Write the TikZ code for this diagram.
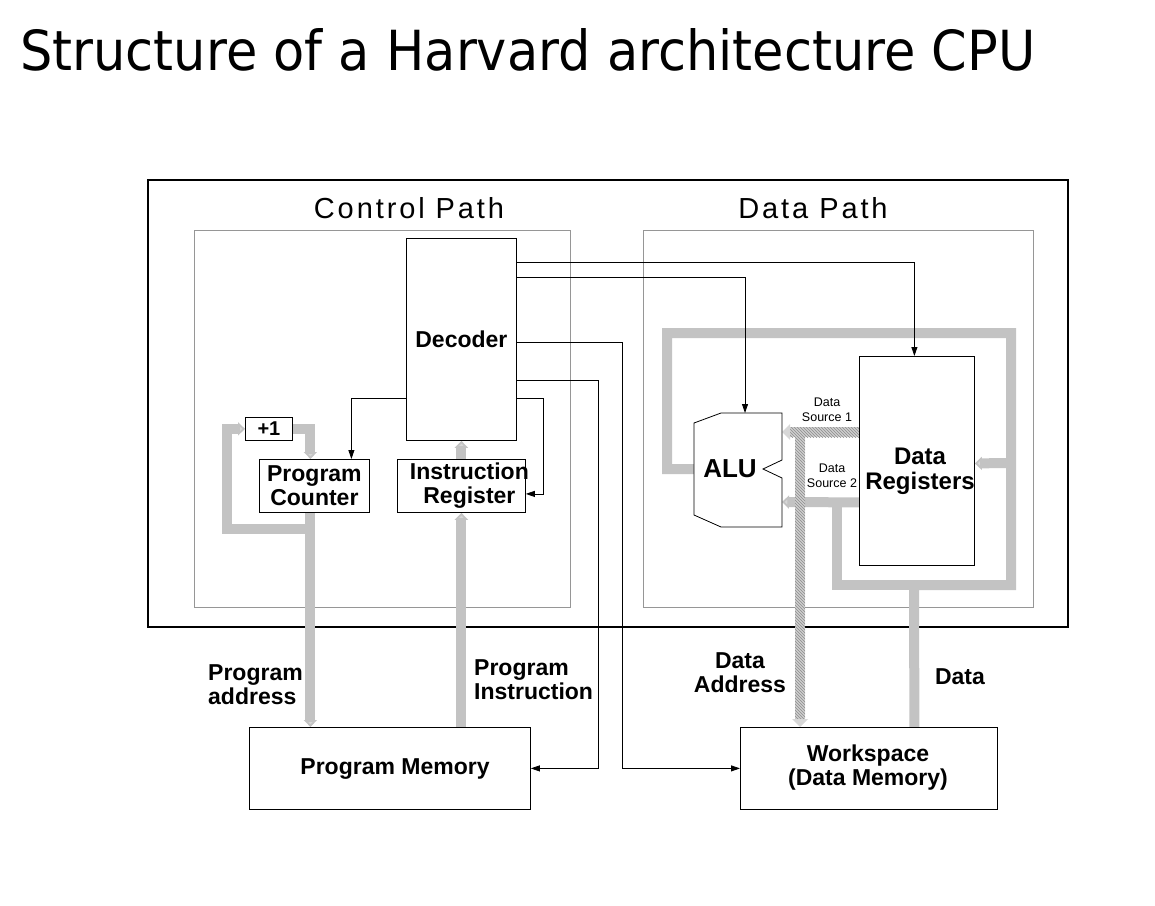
\documentclass[tikz,border=0pt]{standalone}
\usepackage{fontspec}
\setmainfont{Liberation Sans}
\newfontfamily\titlefont{DejaVu Sans}
\newfontfamily\pathfont[LetterSpace=10]{Liberation Sans}
\usetikzlibrary{arrows.meta,patterns,calc}
\definecolor{bus}{RGB}{195,195,195}
\definecolor{tipc}{RGB}{215,215,215}
\definecolor{frame}{RGB}{150,150,150}
\begin{document}
\begin{tikzpicture}[x=1pt,y=-1pt,
  box/.style={draw=black, line width=0.8pt, fill=white, inner sep=0pt, anchor=north west},
  lbl/.style={font=\fontsize{23}{24}\selectfont\bfseries, align=center, inner sep=0pt},
  small/.style={font=\fontsize{12.5}{15}\selectfont, align=center, inner sep=0pt},
  ctl/.style={draw=black, line width=0.8pt, -{Triangle[length=9pt,width=6pt]}},
  busline/.style={draw=bus, line width=10pt, line join=miter},
  busarrow/.style={busline, -{Triangle[length=7pt,width=13pt,fill=tipc]}},
  region/.style={draw=frame, line width=0.7pt},
  hatch/.style={pattern=north west lines, pattern color=black!45}
]
\useasboundingbox (0,0) rectangle (1155,905);

% title
\node[anchor=base west, inner sep=0pt] (title) at (20,70)
  {\resizebox{1015pt}{42pt}{\titlefont Structure of a Harvard architecture CPU}};

% frames
\draw[line width=2pt] (148,180) rectangle (1068,627);
\draw[region] (194,230) rectangle (570,607);
\draw[region] (643,230) rectangle (1033,607);
\node[font=\fontsize{29}{30}\pathfont, inner sep=0pt] (cpath) at (409,208) {Control Path};
\node[font=\fontsize{29}{30}\pathfont, inner sep=0pt] (dpath) at (813,208) {Data Path};

% named boxes (outlines redrawn later on top of the buses)
\node[box, minimum width=110pt, minimum height=202pt] (dec) at (406,238) {};
\node[box, minimum width=47pt, minimum height=23pt] (plus) at (245,417) {};
\node[box, minimum width=110pt, minimum height=53pt] (pc) at (259,459) {};
\node[box, minimum width=128pt, minimum height=53pt] (ir) at (397,459) {};
\node[box, minimum width=115pt, minimum height=209pt] (dreg) at (859,356) {};
\node[box, minimum width=281pt, minimum height=82pt] (pm) at (249,727) {};
\node[box, minimum width=257pt, minimum height=82pt] (ws) at (740,727) {};

% ---------- gray buses ----------
% program counter to program memory
\draw[busarrow] ([xshift=-4pt]pc.south) -- ([xshift=-4pt]pc.south |- pm.north);
% increment loop
\draw[busarrow] ([xshift=-4pt,yshift=-16pt]pc.south) -| ([xshift=-18pt]plus.west) -- (plus.west);
\draw[busarrow] (plus.east) -| ([xshift=-4pt]pc.north);
% program instruction
\draw[busarrow] (ir.south |- pm.north) -- (ir.south);
\draw[busarrow] (ir.north) -- (ir.north |- dec.south);
% data bus
\coordinate (alul) at (694,469);
\coordinate (alur2) at (782,502);
\draw[busline] ([xshift=45.5pt]ws.north) -- (914,585) -- (1011,585) -- (1011,333) -- (667,333) -- (667,469) -- (alul);
\draw[busline] (914,585) -- (837,585) -- (837,502);
\draw[busarrow] (1011,463) -- ([yshift=-2.5pt]dreg.east);
\draw[busarrow] ([yshift=-41.5pt]dreg.west) -- (alur2);

% hatched data source 1 / data address
\coordinate (alur1) at (782,432);
\fill[bus!80] (789,427) rectangle (859,437);
\fill[hatch] (789,427) rectangle (859,437);
\fill[tipc] (790,424) -- (790,440) -- (alur1) -- cycle;
\fill[bus!80] (795,427) rectangle (805,719);
\fill[hatch] (795,427) rectangle (805,719);
\fill[tipc] (792,719) -- (808,719) -- (800,727) -- cycle;

% boxes on top
\node[box, minimum width=110pt, minimum height=202pt, font=\fontsize{23}{24}\selectfont\bfseries] at (406,238) {Decoder};
\node[box, minimum width=47pt, minimum height=23pt, font=\fontsize{20}{20}\selectfont\bfseries] at (245,417) {+1};
\node[box, minimum width=110pt, minimum height=53pt] at (259,459) {};
\node[lbl] at (pc.center) {Program\\Counter};
\node[box, minimum width=128pt, minimum height=53pt] at (397,459) {};
\node[lbl] at ([xshift=8pt]ir.center) {Instruction\\Register};
\node[box, minimum width=115pt, minimum height=209pt] at (859,356) {};
\node[lbl, font=\fontsize{24}{25}\selectfont\bfseries] (dregtxt) at (920,471) {Data\\Registers};
\node[box, minimum width=281pt, minimum height=82pt] at (249,727) {};
\node[lbl] (pmtxt) at (395,769) {Program Memory};
\node[box, minimum width=257pt, minimum height=82pt] at (740,727) {};
\node[lbl] (wstxt) at (868,768) {Workspace\\(Data Memory)};

% ALU
\draw[line width=0.8pt, fill=white] (721,413) -- (782,413) -- (782,460) -- (763,469) -- (782,478)
  -- (782,527) -- (721,527) -- (694,515) -- (694,423) -- cycle;
\coordinate (alutop) at (745,413);
\node[lbl, font=\fontsize{26}{26}\selectfont\bfseries] (alu) at (730,469) {ALU};

% control lines
\draw[ctl] ([yshift=-24pt]dec.north east) -| ([xshift=-2.5pt]dreg.north);
\draw[ctl] ([yshift=-39pt]dec.north east) -| (alutop);
\draw[ctl] ([yshift=-104pt]dec.north east) -| ([xshift=-118pt]ws.west) -- (ws.west);
\draw[ctl] ([yshift=-142pt]dec.north east) -| ([xshift=68pt]pm.east) -- (pm.east);
\draw[ctl] ([yshift=-160pt]dec.north east) -| ([xshift=18pt,yshift=-8pt]ir.east) -- ([yshift=-8pt]ir.east);
\draw[ctl] ([yshift=-160pt]dec.north west) -| ([xshift=37pt]pc.north);

% small labels
\node[small] (ds1) at (827,410) {Data\\Source 1};
\node[small] (ds2) at (832,476) {Data\\Source 2};

% bus labels
\node[lbl, align=left, anchor=west] (lpa) at (208,685) {Program\\address};
\node[lbl, align=left, anchor=west] (lpi) at (474,680) {Program\\Instruction};
\node[lbl] (lda) at (740,673) {Data\\Address};
\node[lbl] (ld) at (960,677) {Data};
\end{tikzpicture}
\end{document}
